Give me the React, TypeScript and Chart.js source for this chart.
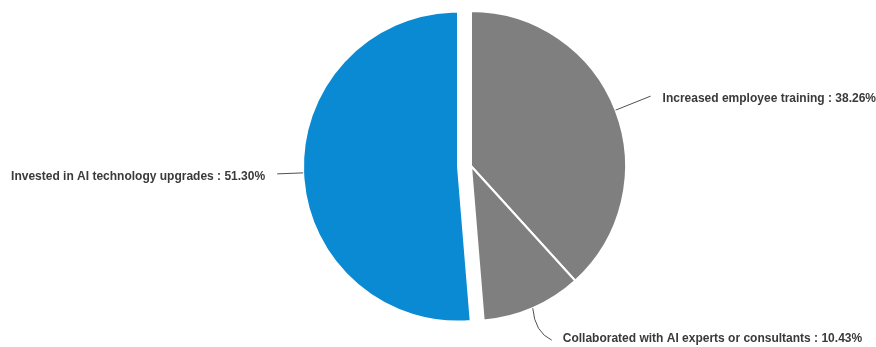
import React, { useEffect, useRef } from "react";
import { Chart, registerables } from "chart.js";

Chart.register(...registerables);

const categories = [
  "Increased employee training",
  "Collaborated with AI experts or consultants",
  "Invested in AI technology upgrades",
];
const values = [38.26, 10.43, 51.3];
const colors = ["#7f7f7f", "#7f7f7f", "#098ad3"];
const explode = [0, 0, 13];

// leader-line layout relative to the anchor point on the slice edge
const labelLayout = [
  { ctrl: null, end: [35, -14], textDx: 12, textDy: 3, align: "left" },
  { ctrl: [2, 24], end: [19, 32], textDx: 11, textDy: -1, align: "left" },
  { ctrl: null, end: [-26, 1], textDx: -12, textDy: 3, align: "right" },
];

const explodePlugin = {
  id: "explodeSlices",
  afterDatasetsUpdate(chart: any) {
    const meta = chart.getDatasetMeta(0);
    meta.data.forEach((arc: any, i: number) => {
      const d = explode[i];
      if (!d) return;
      const mid = (arc.startAngle + arc.endAngle) / 2;
      arc.x += Math.cos(mid) * d;
      arc.y += Math.sin(mid) * d;
    });
  },
};

const labelPlugin = {
  id: "outsideLabels",
  afterDatasetsDraw(chart: any) {
    const ctx = chart.ctx;
    const meta = chart.getDatasetMeta(0);
    ctx.save();
    meta.data.forEach((arc: any, i: number) => {
      const mid = (arc.startAngle + arc.endAngle) / 2;
      const ax = arc.x + Math.cos(mid) * arc.outerRadius;
      const ay = arc.y + Math.sin(mid) * arc.outerRadius;
      const L = labelLayout[i];
      const ex = ax + L.end[0];
      const ey = ay + L.end[1];
      ctx.strokeStyle = "#505050";
      ctx.lineWidth = 1;
      ctx.beginPath();
      ctx.moveTo(ax, ay);
      if (L.ctrl) {
        ctx.quadraticCurveTo(ax + L.ctrl[0], ay + L.ctrl[1], ex, ey);
      } else {
        ctx.lineTo(ex, ey);
      }
      ctx.stroke();
      ctx.fillStyle = "#3a3a3a";
      ctx.font = "bold 12px 'Liberation Sans', Arial, sans-serif";
      ctx.textBaseline = "middle";
      ctx.textAlign = L.align;
      ctx.fillText(`${categories[i]} : ${values[i].toFixed(2)}%`, ex + L.textDx, ey + L.textDy);
    });
    ctx.restore();
  },
};

export default function App() {
  const ref = useRef<HTMLCanvasElement>(null);
  useEffect(() => {
    if (!ref.current) return;
    const chart = new Chart(ref.current, {
      type: "pie",
      data: {
        labels: categories,
        datasets: [
          {
            data: values,
            backgroundColor: colors,
            borderColor: "#ffffff",
            borderWidth: 2,
            radius: 155,
          } as any,
        ],
      },
      options: {
        responsive: false,
        animation: false,
        events: [],
        layout: { padding: { left: 66, right: 0, top: 0, bottom: 15 } },
        plugins: {
          legend: { display: false },
          tooltip: { enabled: false },
        },
      },
      plugins: [explodePlugin, labelPlugin],
    });
    return () => chart.destroy();
  }, []);
  return (
    <div style={{ position: "absolute", left: 0, top: 0, width: 876, height: 347, background: "#fff" }}>
      <canvas ref={ref} width={876} height={347} style={{ display: "block" }} />
    </div>
  );
}
